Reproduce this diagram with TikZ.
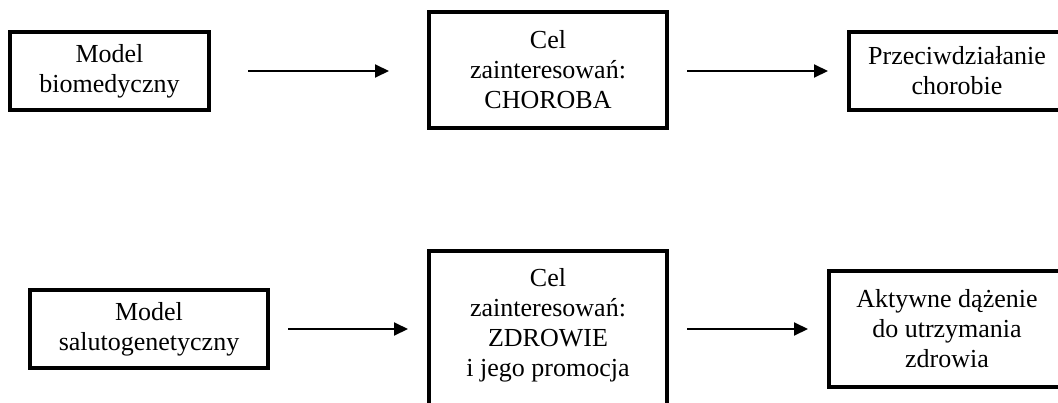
\documentclass[tikz,border=0pt]{standalone}
\usepackage{fontspec}
\setmainfont{Liberation Serif}
\usetikzlibrary{arrows.meta}
\begin{document}
\begin{tikzpicture}[x=1pt,y=-1pt,
  box/.style={draw, line width=4pt, inner sep=0pt, align=center,
    font=\fontsize{26}{30}\selectfont},
  arr/.style={line width=2pt, -{Triangle[length=14pt,width=13pt]}}]
\useasboundingbox (0,0) rectangle (1058,402);
\clip (0,0) rectangle (1058,402);
\node[box, minimum width=199pt, minimum height=78pt] (b1) at (109.5,71) {Model\\biomedyczny};
\node[box, minimum width=238pt, minimum height=116pt] (b2) at (548,70) {Cel\\zainteresowań:\\CHOROBA};
\node[box, minimum width=216pt, minimum height=78pt] (b3) at (957,71) {Przeciwdziałanie\\chorobie};
\node[box, minimum width=238pt, minimum height=78pt] (b4) at (149,329) {Model\\salutogenetyczny};
\node[box, minimum width=238pt, minimum height=174pt] (b5) at (548,338) {Cel\\zainteresowań:\\ZDROWIE\\i jego promocja\\[-8pt]\strut};
\node[box, minimum width=236pt, minimum height=116pt] (b6) at (947,329) {Aktywne dążenie\\do utrzymania\\zdrowia};
\draw[arr, shorten <=37pt, shorten >=38pt] (b1.east) -- (b2.west |- b1.east);
\draw[arr, shorten <=18pt, shorten >=19pt] (b2.east |- b3.west) -- (b3.west);
\draw[arr, shorten <=18pt, shorten >=19pt] (b4.east) -- (b4.east -| b5.west);
\draw[arr, shorten <=18pt, shorten >=19pt] (b5.east |- b6.west) -- (b6.west);
\end{tikzpicture}
\end{document}
